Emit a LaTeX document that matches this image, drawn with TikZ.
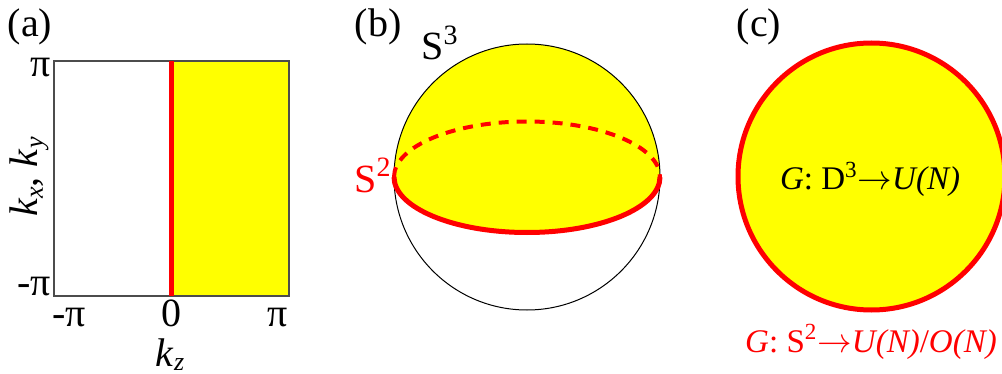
\documentclass[tikz,border=0pt]{standalone}
\usepackage{fontspec}
\setmainfont{Liberation Serif}
\newcommand\ksub[1]{\textit{k}\raisebox{-0.12em}{\fontsize{13}{13}\selectfont\textit{#1}}}
\newcommand\myarrow{\ensuremath{\rightarrow}}
\definecolor{myyellow}{RGB}{255,255,0}
\definecolor{myred}{RGB}{255,0,0}
\begin{document}
\begin{tikzpicture}[x=0.5pt,y=-0.5pt,
  lab/.style={inner sep=0pt,font=\fontsize{20}{24}\selectfont},
  eq/.style={inner sep=0pt,font=\fontsize{16.5}{20}\selectfont},
  thickred/.style={draw=myred,line width=2.5pt},
  dashred/.style={draw=myred,line width=2pt,dash pattern=on 5pt off 4pt}]
\useasboundingbox (0,0) rectangle (1002,374);
% ---- panel (a)
\fill[myyellow] (171,61) rectangle (289,296);
\draw[black!70,line width=0.75pt] (54,61) rectangle (289,296);
\coordinate (rt) at (171,61);
\coordinate (rb) at (171,296);
\draw[thickred] (rt) -- (rb);
\node[lab] (la) at (30,27) {(a)};
\node[lab,anchor=base east] (ytop) at (51,77) {π};
\node[lab,anchor=base east] (ybot) at (51,295) {-π};
\node[lab,anchor=base] (xl) at (69,326) {-π};
\node[lab,anchor=base] (x0) at (171,326) {0};
\node[lab,anchor=base] (xr) at (278,326) {π};
\node[lab,anchor=base] (kz) at (170,366) {\ksub{z}};
\node[lab,anchor=base,rotate=90] (kxy) at (38,177) {\ksub{x}, \ksub{y}};
% ---- panel (b)
\node[lab] (lb) at (378,27) {(b)};
\fill[myyellow] (394,177) arc[start angle=180,end angle=0,radius=66.5pt]
  arc[start angle=0,end angle=-180,x radius=66.5pt,y radius=27.75pt] -- cycle;
\draw[black,line width=0.5pt] (527,177) circle[radius=66.5pt];
\draw[dashred] (394,177) arc[start angle=180,end angle=0,x radius=66.5pt,y radius=27.75pt];
\draw[thickred] (660,177) arc[start angle=0,end angle=-180,x radius=66.5pt,y radius=27.75pt];
\node[lab,anchor=base west] (s3) at (421,60) {S\textsuperscript{3}};
\node[lab,anchor=base west,text=myred] (s2) at (354,192) {S\textsuperscript{2}};
% ---- panel (c)
\node[lab] (lc) at (759,27) {(c)};
\draw[thickred,fill=myyellow] (871.5,176.5) circle[radius=66.75pt];
\node[eq,anchor=base] (g1) at (870,190) {\textit{G}: D\textsuperscript{3}\myarrow\textit{U(N)}};
\node[eq,anchor=base,text=myred] (g2) at (871,352) {\textit{G}: S\textsuperscript{2}\myarrow\textit{U(N)}/\textit{O(N)}};
\end{tikzpicture}
\end{document}
